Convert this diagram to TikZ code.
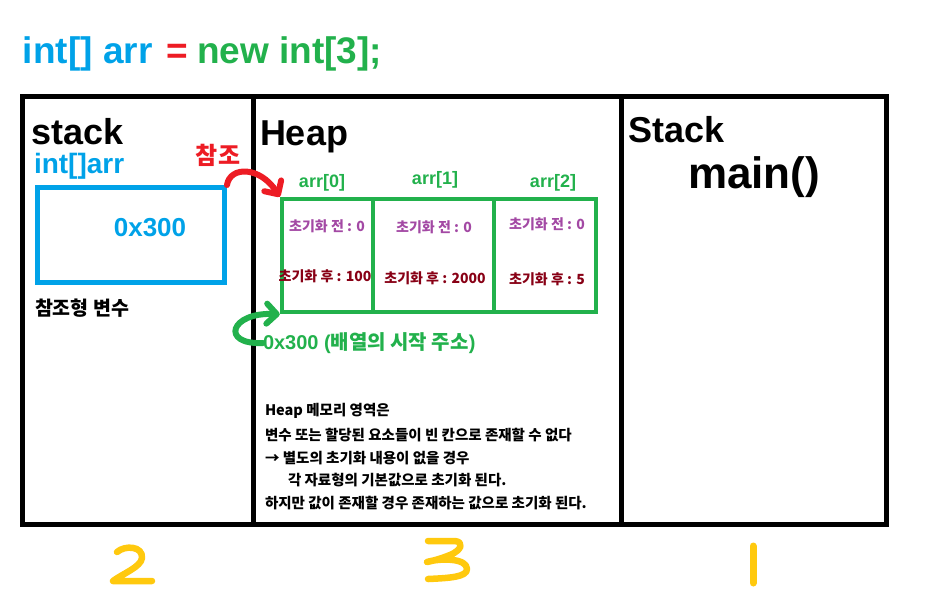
\documentclass[tikz,border=0pt]{standalone}
\usepackage{fontspec}
\setmainfont{Liberation Sans}
\newfontfamily\kr{Noto Sans CJK KR}
\usetikzlibrary{arrows.meta}
\definecolor{cblue}{HTML}{00A2E8}
\definecolor{cred}{HTML}{ED1C24}
\definecolor{cgreen}{HTML}{22B14C}
\definecolor{cpurple}{HTML}{A349A4}
\definecolor{cdred}{HTML}{880015}
\definecolor{cyellow}{HTML}{FFC90E}
\newcommand{\fsz}[1]{\fontsize{#1pt}{#1pt}\selectfont}
\begin{document}
\begin{tikzpicture}[x=1pt,y=-1pt,
  txt/.style={inner sep=0pt, outer sep=0pt},
  lat/.style={txt, font=\fsz{#1}\bfseries},
  kor/.style={txt, font=\kr\fsz{#1}\bfseries},
  cell/.style={draw=cgreen, line width=4.5, minimum height=113, inner sep=0},
  panel/.style={draw=black, line width=5},
  hand/.style={cyellow, line width=6.5, line cap=round, line join=round},
  refarrow/.style={line width=6, line cap=round, -{Straight Barb[length=10,width=20,line cap=round,line join=round]}}
]
\useasboundingbox (0,0) rectangle (931,600);
% panels
\draw[panel] (22,96) rectangle (886,524);
\draw[panel] (253,96) -- (253,524);
\draw[panel] (621,96) -- (621,524);
% title
\node[lat=37, anchor=base west, text=cblue] (t1) at (23,63) {int[] arr};
\node[lat=37, anchor=base, text=cred] (t2) at (177,63) {=};
\node[lat=37, anchor=base west, text=cgreen] (t3) at (197,63) {new int[3];};
% left stack
\node[lat=36, anchor=base west] (stk) at (31,144) {stack};
\node[lat=28, anchor=base west, text=cblue] (var) at (34,173) {int[]arr};
\node[kor=24, text=cred] (cham) at (218,155) {참조};
\node[draw=cblue, line width=5, minimum width=187, minimum height=95, inner sep=0] (ref) at (131,235) {};
\node[lat=26, text=cblue] (val) at (150,228) {0x300};
\node[kor=19.5, anchor=west] (reftype) at (35,308) {참조형 변수};
% heap
\node[lat=36, anchor=base west] (heap) at (260,145) {Heap};
\node[cell, minimum width=91] (c0) at (327.5,255.5) {};
\node[cell, minimum width=121] (c1) at (433.5,255.5) {};
\node[cell, minimum width=102] (c2) at (545,255.5) {};
\node[lat=18, text=cgreen] (a0) at (322,183) {arr[0]};
\node[lat=18, text=cgreen] (a1) at (435,180) {arr[1]};
\node[lat=18, text=cgreen] (a2) at (553,183) {arr[2]};
\node[kor=14, text=cpurple] (b0) at (327,226) {초기화 전 : 0};
\node[kor=14, text=cpurple] (b1) at (434,227) {초기화 전 : 0};
\node[kor=14, text=cpurple] (b2) at (547,224) {초기화 전 : 0};
\node[kor=14, text=cdred] (f0) at (325,276) {초기화 후 : 100};
\node[kor=14, text=cdred] (f1) at (435,278) {초기화 후 : 2000};
\node[kor=14, text=cdred] (f2) at (547,279) {초기화 후 : 5};
\node[lat=20, anchor=west, text=cgreen] (addr) at (263,343) {0x300 ({\kr 배열의 시작 주소})};
\node[kor=14.5, anchor=west] (l1) at (265,411) {Heap 메모리 영역은};
\node[kor=14.5, anchor=west] (l2) at (265,435) {변수 또는 할당된 요소들이 빈 칸으로 존재할 수 없다};
\node[kor=14.5, anchor=west] (l3) at (265,458) {→ 별도의 초기화 내용이 없을 경우};
\node[kor=14.5, anchor=west] (l4) at (288,480) {각 자료형의 기본값으로 초기화 된다.};
\node[kor=14.5, anchor=west] (l5) at (265,503) {하지만 값이 존재할 경우 존재하는 값으로 초기화 된다.};
% right stack
\node[lat=36, anchor=base west] (stk2) at (628,142) {Stack};
\node[lat=44, anchor=base] (mainf) at (754,188) {main()};
% arrows
\draw[refarrow, cred] (ref.north east) .. controls (230,166) and (260,166) .. (c0.north west);
\draw[refarrow, cgreen] (addr.west) .. controls (220,345) and (230,312) .. (c0.south west);
% hand-written numbers
\draw[hand] (117,552) .. controls (125,545) and (143,546) .. (142,558) .. controls (141,567) and (122,574) .. (113,581) -- (152,581);
\draw[hand] (428,541) -- (455,541) .. controls (464,542) and (462,550) .. (450,555) .. controls (440,559) and (432,561) .. (427,562)
  .. controls (440,558) and (467,558) .. (467,569) .. controls (467,577) and (450,578) .. (428,579);
\draw[hand, line width=7] (753,546) -- (753,583);
\end{tikzpicture}
\end{document}
